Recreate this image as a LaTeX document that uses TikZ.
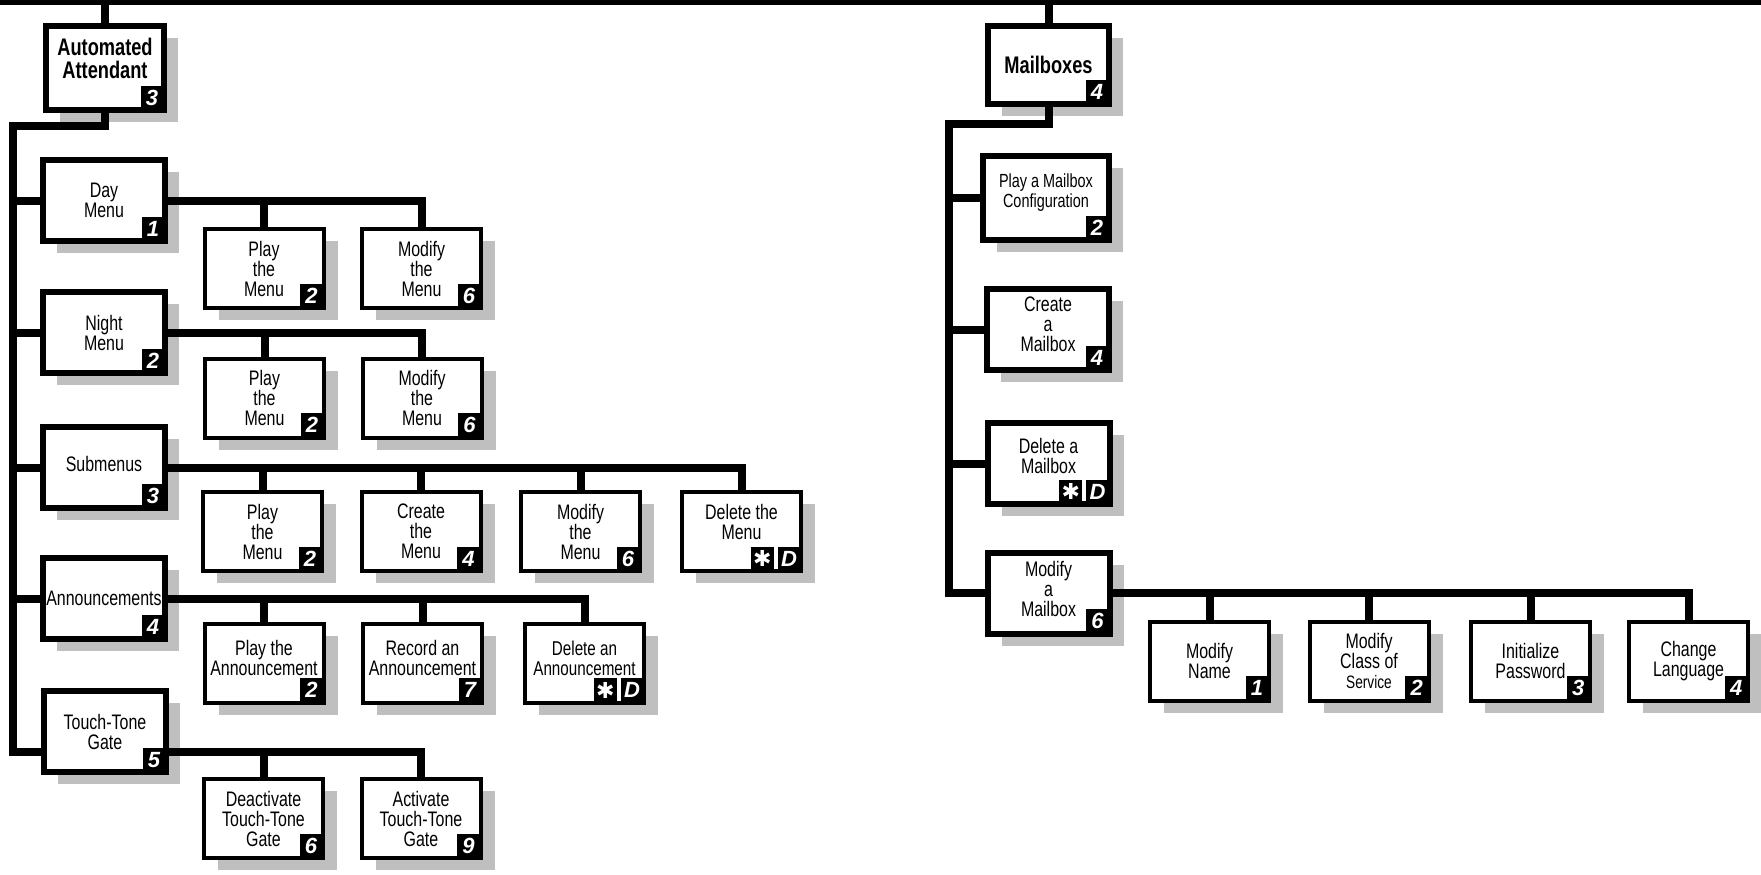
\documentclass[tikz,border=0pt]{standalone}
\usepackage{fontspec}
\setmainfont{Liberation Sans}[FakeStretch=0.76]
\newfontfamily\keyfont{Liberation Sans}
\newfontfamily\starfont{DejaVu Sans}
\usetikzlibrary{shadows}
\definecolor{VMgrey}{HTML}{BFBFBF}

\begin{document}
\begin{tikzpicture}[x=0.5pt, y=-0.5pt,
    link/.style={line width=4pt},
    menubox/.style={draw, line width=3pt, fill=white, outer sep=0pt, inner sep=1pt, align=center,
      minimum width=61pt, minimum height=40.5pt, font=\fontsize{10.5}{10}\selectfont,
      drop shadow={shadow xshift=7pt, shadow yshift=-6pt, fill=VMgrey, opacity=1}},
    headbox/.style={menubox, font=\fontsize{12}{11.5}\selectfont\bfseries},
    itembox/.style={menubox, line width=2pt, minimum width=59.5pt, minimum height=39.5pt},
    lift/.style={text depth=#1},
    badge/.style={fill=black, text=white, inner sep=0pt, minimum width=11.5pt, minimum height=12pt,
      anchor=south east, font=\keyfont\fontsize{11}{11}\selectfont\bfseries\itshape}
  ]
  \useasboundingbox (0,0) rectangle (1761,874);
  \coordinate (bar-w) at (0,2.5);
  \coordinate (bar-e) at (1761,2.5);
  \draw[line width=2.5pt] (bar-w) -- (bar-e);

  \node[headbox, minimum width=59pt, minimum height=42pt, lift=10pt] (aa) at (105,68) {Automated\\Attendant};
  \node[menubox] (day) at (104,200.5) {Day\\Menu};
  \node[menubox] (night) at (104,332.5) {Night\\Menu};
  \node[menubox, lift=4pt] (sub) at (104,467.5) {Submenus};
  \node[menubox] (ann) at (104,598.5) {Announcements};
  \node[menubox] (ttg) at (105,731.5) {Touch-Tone\\Gate};

  \node[itembox] (dplay) at (264,268.5) {Play\\the\\Menu};
  \node[itembox] (dmod) at (421.5,268.5) {Modify\\the\\Menu};
  \node[itembox] (nplay) at (264.5,398) {Play\\the\\Menu};
  \node[itembox] (nmod) at (422,398) {Modify\\the\\Menu};
  \node[itembox] (splay) at (262.5,531.5) {Play\\the\\Menu};
  \node[itembox] (screate) at (421,531.5) {Create\\the\\Menu};
  \node[itembox] (smod) at (580.5,531.5) {Modify\\the\\Menu};
  \node[itembox, lift=10pt] (sdel) at (741.5,531.5) {Delete the\\Menu};
  \node[itembox, lift=5pt] (aplay) at (264,663) {Play the\\Announcement};
  \node[itembox, lift=5pt] (arec) at (422.5,663) {Record an\\Announcement};
  \node[itembox, lift=5pt, font=\fontsize{10}{10}\selectfont] (adel) at (584.5,663) {Delete an\\Announcement};
  \node[itembox] (tdeact) at (263.5,818.5) {Deactivate\\Touch-Tone\\Gate};
  \node[itembox] (tact) at (421,818.5) {Activate\\Touch-Tone\\Gate};

  \node[headbox, minimum width=60.5pt, minimum height=39pt] (mbox) at (1048.5,65) {Mailboxes};
  \node[menubox, minimum width=63pt, minimum height=42pt, lift=7pt, font=\fontsize{9.5}{10}\selectfont] (mplay) at (1046,198) {Play a Mailbox\\Configuration};
  \node[menubox, lift=5pt] (mcreate) at (1048,329.5) {Create\\a\\Mailbox};
  \node[menubox, lift=8pt] (mdel) at (1048.5,463.5) {Delete a\\Mailbox};
  \node[menubox, lift=4pt] (mmod) at (1048.5,593) {Modify\\a\\Mailbox};
  \node[itembox] (mname) at (1209.5,661) {Modify\\Name};
  \node[itembox] (mclass) at (1369,661) {Modify\\Class of\\{\fontsize{9}{10}\selectfont Service}};
  \node[itembox] (mpass) at (1530.5,661) {Initialize\\Password};
  \node[itembox] (mlang) at (1688.5,661) {Change\\Language};

  \node[badge] (aa-n) at (aa.south east) {3};
  \node[badge] (day-n) at (day.south east) {1};
  \node[badge] (night-n) at (night.south east) {2};
  \node[badge] (sub-n) at (sub.south east) {3};
  \node[badge] (ann-n) at (ann.south east) {4};
  \node[badge] (ttg-n) at (ttg.south east) {5};
  \node[badge] (dplay-n) at (dplay.south east) {2};
  \node[badge] (dmod-n) at (dmod.south east) {6};
  \node[badge] (nplay-n) at (nplay.south east) {2};
  \node[badge] (nmod-n) at (nmod.south east) {6};
  \node[badge] (splay-n) at (splay.south east) {2};
  \node[badge] (screate-n) at (screate.south east) {4};
  \node[badge] (smod-n) at (smod.south east) {6};
  \node[badge] (sdel-d) at (sdel.south east) {D};
  \node[badge] (sdel-s) at ([xshift=-1.5pt]sdel-d.south west) {\starfont ✱};
  \node[badge] (aplay-n) at (aplay.south east) {2};
  \node[badge] (arec-n) at (arec.south east) {7};
  \node[badge] (adel-d) at (adel.south east) {D};
  \node[badge] (adel-s) at ([xshift=-1.5pt]adel-d.south west) {\starfont ✱};
  \node[badge] (tdeact-n) at (tdeact.south east) {6};
  \node[badge] (tact-n) at (tact.south east) {9};
  \node[badge] (mbox-n) at (mbox.south east) {4};
  \node[badge] (mplay-n) at (mplay.south east) {2};
  \node[badge] (mcreate-n) at (mcreate.south east) {4};
  \node[badge] (mdel-d) at (mdel.south east) {D};
  \node[badge] (mdel-s) at ([xshift=-1.5pt]mdel-d.south west) {\starfont ✱};
  \node[badge] (mmod-n) at (mmod.south east) {6};
  \node[badge] (mname-n) at (mname.south east) {1};
  \node[badge] (mclass-n) at (mclass.south east) {2};
  \node[badge] (mpass-n) at (mpass.south east) {3};
  \node[badge] (mlang-n) at (mlang.south east) {4};

  \draw[link] (aa.north) -- (aa.north |- bar-w);
  \coordinate (lt) at (12.5,126);
  \coordinate (ttg-j) at ([yshift=-10pt]ttg.west);
  \coordinate (ttg-k) at ([yshift=-10pt]ttg.east);
  \draw[link] (aa.south) |- (lt) |- (ttg-j);
  \foreach \b in {day,night,sub,ann}
    \draw[link] (lt |- \b.west) -- (\b.west);
  \draw[link] (day.east) -| (dmod.north);
  \draw[link] (dplay.north) -- (dplay.north |- day.east);
  \draw[link] (night.east) -| (nmod.north);
  \draw[link] (nplay.north) -- (nplay.north |- night.east);
  \draw[link] (sub.east) -| (sdel.north);
  \foreach \c in {splay,screate,smod}
    \draw[link] (\c.north) -- (\c.north |- sub.east);
  \draw[link] (ann.east) -| (adel.north);
  \foreach \c in {aplay,arec}
    \draw[link] (\c.north) -- (\c.north |- ann.east);
  \draw[link] (ttg-k) -| (tact.north);
  \draw[link] (tdeact.north) -- (tdeact.north |- ttg-k);

  \draw[link] (mbox.north) -- (mbox.north |- bar-w);
  \coordinate (rt) at (949,124);
  \draw[link] (mbox.south) |- (rt) |- (mmod.west);
  \foreach \b in {mplay,mcreate,mdel}
    \draw[link] (rt |- \b.west) -- (\b.west);
  \draw[link] (mmod.east) -| (mlang.north);
  \foreach \c in {mname,mclass,mpass}
    \draw[link] (\c.north) -- (\c.north |- mmod.east);
\end{tikzpicture}
\end{document}
